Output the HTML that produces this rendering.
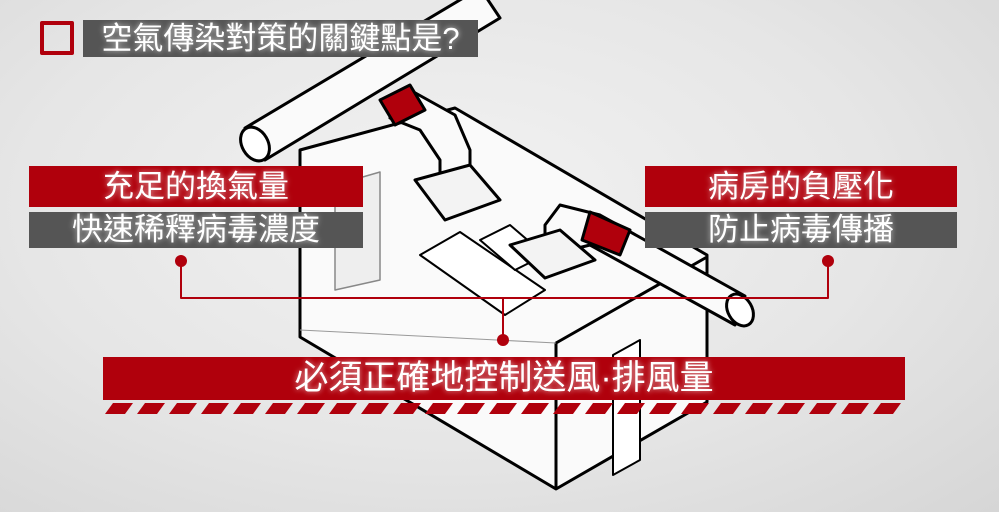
<!DOCTYPE html>
<html><head><meta charset="utf-8"><style>
body{margin:0;width:999px;height:512px;overflow:hidden;background:radial-gradient(ellipse at 45% 40%,#f2f2f2 0%,#e6e6e6 55%,#d6d6d6 100%);font-family:"Liberation Sans","Noto Sans CJK TC",sans-serif;position:relative}
.b{position:absolute;color:#fff;text-align:center;white-space:nowrap;text-shadow:0 0 6px rgba(255,255,255,.7)}
.r{background:#b0000c}.d{background:#555}
</style></head><body>
<svg width="999" height="512" style="position:absolute;left:0;top:0" stroke="#000" stroke-width="3" stroke-linejoin="round">
<polygon points="300,150 455,108 707,255 707,402 556,489 300,337" fill="#fafafa"/>
<polyline points="707,257 556,343 556,489" fill="none"/>
<polyline points="300,337 300,150" fill="none"/>
<line x1="300" y1="330" x2="556" y2="343" stroke="#999" stroke-width="1"/>
<polygon points="335,185 380,172 380,280 335,290" fill="#eee" stroke="#888" stroke-width="1.5"/>
<polygon points="613,355 640,340 640,460 613,475" fill="#fff" stroke-width="2"/>
<polygon points="420,255 460,232 545,290 505,315" fill="#fff" stroke-width="2"/>
<polygon points="480,240 510,225 545,255 515,270" fill="#fff" stroke-width="2"/>
<polygon points="245,128 480,-12 500,18 265,160" fill="#fafafa"/>
<ellipse cx="255" cy="144" rx="13" ry="18" transform="rotate(-30 255 144)" fill="#fff"/>
<polygon points="410,90 390,118 420,130 440,160 440,195 470,195 470,150 455,115" fill="#fafafa"/>
<polygon points="380,100 410,85 425,110 395,125" fill="#b0000c"/>
<polygon points="415,180 470,165 500,200 445,220" fill="#f3f3f3"/>
<polygon points="560,205 600,215 745,296 735,325 590,245 570,250 570,255 545,255 545,225" fill="#fafafa"/>
<polygon points="590,212 630,230 620,255 582,240" fill="#b0000c"/>
<ellipse cx="740" cy="310" rx="12" ry="17" transform="rotate(-30 740 310)" fill="#fff"/>
<polygon points="510,245 560,230 595,260 545,278" fill="#f3f3f3"/>
<g stroke="#b0000c" stroke-width="2" fill="none"><polyline points="181,261 181,298 828,298 828,261"/><line x1="503" y1="298" x2="503" y2="340"/></g>
<g fill="#b0000c" stroke="none"><circle cx="181" cy="261" r="6"/><circle cx="828" cy="261" r="6"/><circle cx="503" cy="340" r="6"/></g>
<rect x="42" y="23" width="30" height="30" fill="none" stroke="#b0000c" stroke-width="4"/>
<defs><pattern id="s" x="103" y="403" width="32" height="11" patternUnits="userSpaceOnUse"><polygon points="10,0 30,0 22,11 2,11" fill="#b0000c" stroke="none"/></pattern></defs>
<rect x="103" y="403" width="802" height="11" fill="url(#s)" stroke="none"/>
</svg>
<div class="b d" style="left:83px;top:20px;width:395px;height:37px;line-height:37px;font-size:31px">空氣傳染對策的關鍵點是?</div>
<div class="b r" style="left:29px;top:166px;width:334px;height:41px;line-height:41px;font-size:31px">充足的換氣量</div>
<div class="b d" style="left:29px;top:212px;width:334px;height:36px;line-height:36px;font-size:31px">快速稀釋病毒濃度</div>
<div class="b r" style="left:645px;top:166px;width:312px;height:41px;line-height:41px;font-size:31px">病房的負壓化</div>
<div class="b d" style="left:645px;top:212px;width:312px;height:36px;line-height:36px;font-size:31px">防止病毒傳播</div>
<div class="b r" style="left:103px;top:357px;width:802px;height:43px;line-height:43px;font-size:34px">必須正確地控制送風·排風量</div>
</body></html>
